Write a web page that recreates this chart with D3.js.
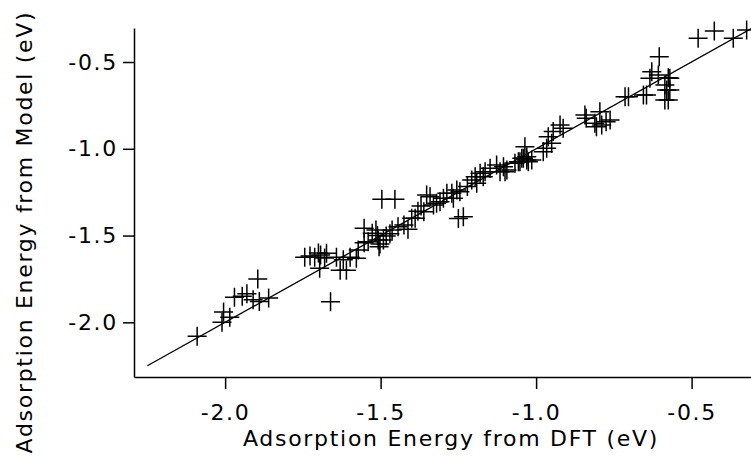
<!DOCTYPE html>
<html>
<head>
<meta charset="utf-8">
<script src="https://cdn.jsdelivr.net/npm/d3@7"></script>
<style>
  html, body { margin: 0; padding: 0; background: #fff; }
  svg { display: block; }
  .axis text, .title { font-family: "DejaVu Sans", sans-serif; fill: #000; }
</style>
</head>
<body>
<svg id="chart" width="751" height="459"></svg>
<script>
// DFT vs model adsorption energies (eV)
const dftE = [
  -2.09, -2.01, -2.005, -1.985, -1.97, -1.945, -1.93, -1.895, -1.89, -1.86, -1.91,
  -1.744, -1.727, -1.712, -1.693, -1.674, -1.696, -1.642, -1.63, -1.61, -1.598, -1.661,
  -1.578, -1.572, -1.553, -1.62, -1.70, -1.68,
  -1.553, -1.527, -1.515, -1.508, -1.502, -1.482, -1.463, -1.444, -1.425, -1.412,
  -1.54, -1.491, -1.496, -1.454, -1.389, -1.51, -1.47, -1.505,
  -1.352, -1.341, -1.33, -1.32, -1.309, -1.298, -1.361, -1.271, -1.255, -1.245,
  -1.25, -1.234, -1.221, -1.196, -1.18, -1.164, -1.148, -1.127, -1.116, -1.057, -1.041,
  -1.38, -1.37, -1.40, -1.287, -1.266, -1.207, -1.191, -1.17, -1.094, -1.068, -1.03,
  -1.105, -1.10, -1.052, -1.046, -1.036, -1.03, -1.025, -1.014, -0.977, -0.966, -0.961,
  -0.95, -0.945, -0.923, -0.913, -0.843, -0.839, -0.811, -0.806, -0.795, -0.789,
  -0.775, -0.762, -0.714, -0.703, -0.655, -0.645,
  -0.604, -0.628, -0.607, -0.634, -0.575, -0.586, -0.58, -0.57, -0.586, -0.575, -0.57,
  -0.479, -0.427, -0.366, -0.323
];
const modelE = [
  -2.08, -2.00, -1.94, -1.97, -1.855, -1.85, -1.835, -1.75, -1.88, -1.86, -1.87,
  -1.625, -1.618, -1.625, -1.612, -1.602, -1.689, -1.625, -1.70, -1.70, -1.625, -1.881,
  -1.631, -1.583, -1.541, -1.64, -1.60, -1.63,
  -1.458, -1.487, -1.468, -1.526, -1.549, -1.503, -1.468, -1.449, -1.439, -1.464,
  -1.535, -1.526, -1.291, -1.291, -1.40, -1.50, -1.49, -1.565,
  -1.266, -1.276, -1.324, -1.314, -1.305, -1.285, -1.363, -1.256, -1.237, -1.247,
  -1.401, -1.391, -1.218, -1.161, -1.141, -1.132, -1.112, -1.093, -1.132, -1.074, -1.055,
  -1.36, -1.33, -1.40, -1.256, -1.285, -1.18, -1.199, -1.161, -1.122, -1.084, -1.065,
  -1.103, -1.132, -1.074, -1.055, -0.988, -1.046, -1.074, -1.065, -1.017, -0.997, -0.93,
  -0.968, -0.901, -0.863, -0.882, -0.805, -0.824, -0.853, -0.873, -0.786, -0.863,
  -0.844, -0.834, -0.70, -0.70, -0.69, -0.69,
  -0.469, -0.556, -0.575, -0.594, -0.59, -0.632, -0.661, -0.661, -0.719, -0.719, -0.594,
  -0.363, -0.321, -0.363, -0.315
];
const fitLine = [-2.25, -0.30];
const xTicks = [-2.0, -1.5, -1.0, -0.5];
const yTicks = [-2.0, -1.5, -1.0, -0.5];

const svg = d3.select("#chart");
const plotLeft = 134, plotRight = 751, plotTop = 28, plotBottom = 377;

const x = d3.scaleLinear().domain([-2.293, -0.309]).range([plotLeft, plotRight]);
const y = d3.scaleLinear().domain([-2.315, -0.304]).range([plotBottom, plotTop]);

const fontSize = "22px", spacing = "1.7px";

// axes
svg.append("g").attr("class", "axis")
  .attr("transform", `translate(0,${plotBottom})`)
  .call(d3.axisBottom(x).tickValues(xTicks).tickSize(12).tickSizeOuter(0)
    .tickPadding(15).tickFormat(d => d.toFixed(1)));
svg.append("g").attr("class", "axis")
  .attr("transform", `translate(${plotLeft},0)`)
  .call(d3.axisLeft(y).tickValues(yTicks).tickSize(11).tickSizeOuter(0)
    .tickPadding(5).tickFormat(d => d.toFixed(1)));

svg.selectAll(".axis path, .axis line").attr("stroke", "#000").attr("stroke-width", 1.5);
svg.selectAll(".axis text").attr("font-size", fontSize).style("letter-spacing", spacing);

// y = x reference line
svg.append("line")
  .attr("x1", x(fitLine[0])).attr("y1", y(fitLine[0]))
  .attr("x2", x(fitLine[1])).attr("y2", y(fitLine[1]))
  .attr("stroke", "#000").attr("stroke-width", 1.3);

// cross markers
const pts = dftE.map((d, i) => ({ dft: d, model: modelE[i] }));
const r = 9.5;
svg.append("g").selectAll("path").data(pts).join("path")
  .attr("transform", d => `translate(${x(d.dft)},${y(d.model)})`)
  .attr("d", `M${-r},0H${r}M0,${-r}V${r}`)
  .attr("stroke", "#000").attr("stroke-width", 1.5).attr("fill", "none");

// titles
svg.append("text").attr("class", "title")
  .attr("x", 451).attr("y", 446)
  .attr("text-anchor", "middle").attr("font-size", fontSize)
  .style("letter-spacing", spacing)
  .text("Adsorption Energy from DFT (eV)");

svg.append("text").attr("class", "title")
  .attr("transform", "translate(32,232) rotate(-90)")
  .attr("text-anchor", "middle").attr("font-size", fontSize)
  .style("letter-spacing", spacing)
  .text("Adsorption Energy from Model (eV)");
</script>
</body>
</html>
